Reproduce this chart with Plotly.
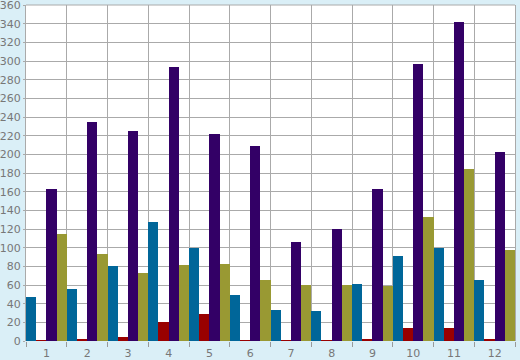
import plotly.graph_objects as go

categories = ["1", "2", "3", "4", "5", "6", "7", "8", "9", "10", "11", "12"]
series_blue = [47, 56, 80, 127, 100, 49, 33, 32, 61, 91, 100, 65]
series_red = [1, 2, 4, 20, 29, 1, 1, 1, 2, 14, 14, 2]
series_purple = [163, 235, 225, 294, 222, 209, 106, 120, 163, 297, 342, 202]
series_olive = [115, 93, 73, 81, 83, 65, 60, 60, 59, 133, 184, 97]

colors = ["#006699", "#990000", "#330066", "#999933"]
xs = list(range(1, len(categories) + 1))

fig = go.Figure()
for vals, c in zip([series_blue, series_red, series_purple, series_olive], colors):
    fig.add_trace(go.Bar(x=xs, y=vals, marker=dict(color=c, line=dict(width=0)),
                         hoverinfo="y"))

fig.update_layout(
    width=520, height=360,
    margin=dict(l=26, r=5, t=5, b=19, autoexpand=False),
    paper_bgcolor="#daeff7",
    plot_bgcolor="#ffffff",
    barmode="group", bargap=0, bargroupgap=0,
    showlegend=False,
    font=dict(family="DejaVu Sans", size=10, color="#777777"),
    xaxis=dict(
        range=[0.5, 12.5], tickmode="array", tickvals=xs, ticktext=categories,
        showgrid=False, zeroline=False, showline=False, ticks="",
        automargin=False, ticklabeloverflow="allow", ticklabelstandoff=4,
        tickfont=dict(size=11, color="#777777"),
        minor=dict(tick0=0.5, dtick=1, showgrid=True, gridcolor="#aaaaaa", gridwidth=1,
                   ticks="outside", ticklen=5, tickcolor="#999999"),
    ),
    yaxis=dict(
        range=[0, 360], dtick=20, tick0=0, showgrid=True, gridcolor="#aaaaaa", gridwidth=1,
        zeroline=False, showline=True, mirror=True, linecolor="#aaaaaa", linewidth=1,
        ticks="outside", ticklen=2, tickcolor="#aaaaaa",
        automargin=False, ticklabeloverflow="allow",
        tickfont=dict(size=11, color="#777777"),
    ),
    shapes=[dict(type="line", xref="paper", yref="paper", x0=0, x1=1, y0=1, y1=1,
                 line=dict(color="#aaaaaa", width=1))],
)

fig.write_html("out.html", config={"displayModeBar": False},
               post_script="document.body.style.margin='0';document.body.style.background='#daeff7';")
